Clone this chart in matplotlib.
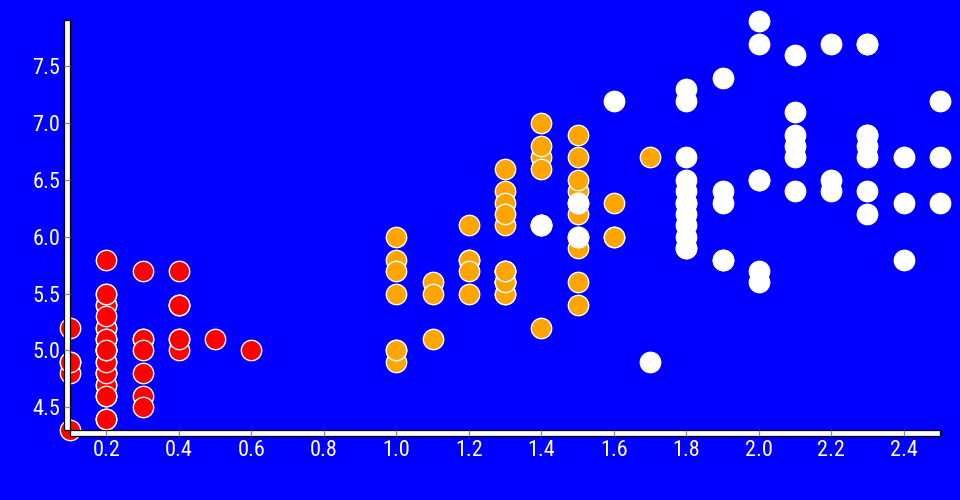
import matplotlib
matplotlib.use("Agg")
import matplotlib.pyplot as plt
from matplotlib.patches import Rectangle
from matplotlib import font_manager

# Iris: petal width (x) vs sepal length (y)
setosa_pw = [0.2,0.2,0.2,0.2,0.2,0.4,0.3,0.2,0.2,0.1,0.2,0.2,0.1,0.1,0.2,0.4,0.4,0.3,0.3,0.3,
             0.2,0.4,0.2,0.5,0.2,0.2,0.4,0.2,0.2,0.2,0.2,0.4,0.1,0.2,0.2,0.2,0.2,0.1,0.2,0.2,
             0.3,0.3,0.2,0.6,0.4,0.3,0.2,0.2,0.2,0.2]
setosa_sl = [5.1,4.9,4.7,4.6,5.0,5.4,4.6,5.0,4.4,4.9,5.4,4.8,4.8,4.3,5.8,5.7,5.4,5.1,5.7,5.1,
             5.4,5.1,4.6,5.1,4.8,5.0,5.0,5.2,5.2,4.7,4.8,5.4,5.2,5.5,4.9,5.0,5.5,4.9,4.4,5.1,
             5.0,4.5,4.4,5.0,5.1,4.8,5.1,4.6,5.3,5.0]
versicolor_pw = [1.4,1.5,1.5,1.3,1.5,1.3,1.6,1.0,1.3,1.4,1.0,1.5,1.0,1.4,1.3,1.4,1.5,1.0,1.5,1.1,
                 1.8,1.3,1.5,1.2,1.3,1.4,1.4,1.7,1.5,1.0,1.1,1.0,1.2,1.6,1.5,1.6,1.5,1.3,1.3,1.3,
                 1.2,1.4,1.2,1.0,1.3,1.2,1.3,1.3,1.1,1.3]
versicolor_sl = [7.0,6.4,6.9,5.5,6.5,5.7,6.3,4.9,6.6,5.2,5.0,5.9,6.0,6.1,5.6,6.7,5.6,5.8,6.2,5.6,
                 5.9,6.1,6.3,6.1,6.4,6.6,6.8,6.7,6.0,5.7,5.5,5.5,5.8,6.0,5.4,6.0,6.7,6.3,5.6,5.5,
                 5.5,6.1,5.8,5.0,5.6,5.7,5.7,6.2,5.1,5.7]
virginica_pw = [2.5,1.9,2.1,1.8,2.2,2.1,1.7,1.8,1.8,2.5,2.0,1.9,2.1,2.0,2.4,2.3,1.8,2.2,2.3,1.5,
                2.3,2.0,2.0,1.8,2.1,1.8,1.8,1.8,2.1,1.6,1.9,2.0,2.2,1.5,1.4,2.3,2.4,1.8,1.8,2.1,
                2.4,2.3,1.9,2.3,2.5,2.3,1.9,2.0,2.3,1.8]
virginica_sl = [6.3,5.8,7.1,6.3,6.5,7.6,4.9,7.3,6.7,7.2,6.5,6.4,6.8,5.7,5.8,6.4,6.5,7.7,7.7,6.0,
                6.9,5.6,7.7,6.3,6.7,7.2,6.2,6.1,6.4,7.2,7.4,7.9,6.4,6.3,6.1,7.7,6.3,6.4,6.0,6.9,
                6.7,6.9,5.8,6.8,6.7,6.7,6.3,6.5,6.2,5.9]

x_ticks = [0.2,0.4,0.6,0.8,1.0,1.2,1.4,1.6,1.8,2.0,2.2,2.4]
y_ticks = [4.5,5.0,5.5,6.0,6.5,7.0,7.5]

# pick a condensed sans font if one is installed
font_path = None
cands = []
for f in font_manager.fontManager.ttflist:
    fn = f.fname.lower()
    if ("condensed" in fn or "narrow" in fn) and "bold" not in fn and "italic" not in fn \
            and "light" not in fn and "thin" not in fn and "black" not in fn \
            and "medium" not in fn and "semi" not in fn and "oblique" not in fn and "extra" not in fn:
        cands.append(f.fname)
pref = ["robotocondensed", "dejavusanscondensed", "liberationsansnarrow", "opensans_condensed",
        "opensanscondensed", "notosanscondensed"]
for p in pref:
    for c in cands:
        if p in c.lower().replace("-", "").replace("_", ""):
            font_path = c
            break
    if font_path:
        break
if font_path is None and cands:
    font_path = cands[0]

if font_path:
    fprop = font_manager.FontProperties(fname=font_path, size=16)
else:
    fprop = font_manager.FontProperties(family="DejaVu Sans", stretch="condensed", size=16)

W, H = 960, 500
fig = plt.figure(figsize=(9.6, 5.0), dpi=100, facecolor="#0000ff")
ax = fig.add_axes([70/W, 1-430/H, 870/W, 409/H])
ax.set_facecolor("none")

ms = 215
ax.scatter(setosa_pw, setosa_sl, s=ms, c="#ff0000", edgecolors="white", linewidths=1, zorder=1, clip_on=False)
ax.scatter(versicolor_pw, versicolor_sl, s=ms, c="#ffa500", edgecolors="white", linewidths=1, zorder=1, clip_on=False)
ax.scatter(virginica_pw, virginica_sl, s=ms, c="white", edgecolors="white", linewidths=1, zorder=1, clip_on=False)

ax.set_xlim(0.1, 2.5)
ax.set_ylim(4.3, 7.9)
ax.set_xticks(x_ticks)
ax.set_yticks(y_ticks)
ax.set_xticklabels([f"{v:.1f}" for v in x_ticks])
ax.set_yticklabels([f"{v:.1f}" for v in y_ticks])
for s in ax.spines.values():
    s.set_visible(False)
ax.set_axisbelow(False)
ax.tick_params(direction="out", length=4.2, width=0.9, color="#888888",
               labelcolor="white", pad=3.0)
for lab in ax.get_xticklabels() + ax.get_yticklabels():
    lab.set_fontproperties(fprop)

def prect(x0, y0, x1, y1):
    r = Rectangle((x0/W, 1-y1/H), (x1-x0)/W, (y1-y0)/H, transform=fig.transFigure,
                  facecolor="white", edgecolor="black", linewidth=0.9, zorder=2, clip_on=False)
    ax.add_artist(r)

prect(64, 20, 70, 430)
prect(70, 430, 940, 435.5)

fig.savefig("out.png", dpi=100, facecolor=fig.get_facecolor())
